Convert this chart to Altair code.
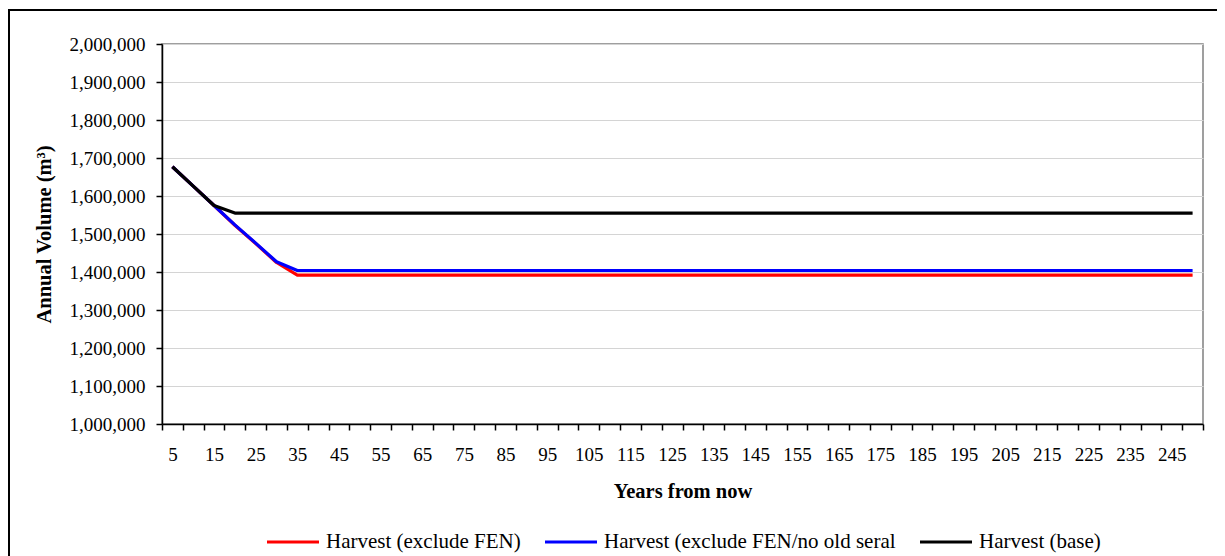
import pandas as pd
import altair as alt

# Years from now (one category every 5 years)
years = list(range(5, 255, 5))

# Annual volume (m3)
harvest_base = [1677000, 1626000, 1575000] + [1555000] * 47
harvest_excl_fen = [1677000, 1626000, 1575000, 1523000, 1475000, 1425000] + [1392000] * 44
harvest_excl_fen_no_old = [1677000, 1626000, 1575000, 1524000, 1476000, 1427000] + [1404000] * 44

series_names = [
    "Harvest (exclude FEN)",
    "Harvest (exclude FEN/no old seral",
    "Harvest (base)",
]
series_colors = ["#ff0000", "#0000ff", "#000000"]

y_ticks = list(range(1000000, 2000001, 100000))
x_ticks = [y - 2.5 for y in years] + [252.5]  # category boundaries

rows = []
for name, vals in zip(series_names, [harvest_excl_fen, harvest_excl_fen_no_old, harvest_base]):
    for yr, v in zip(years, vals):
        rows.append({"year": yr, "volume": v, "series": name})
df = pd.DataFrame(rows)

FONT = "Liberation Serif"
W, H = 1041, 380

lines = alt.Chart(df).mark_line(strokeWidth=3.2, strokeJoin="round").encode(
    x=alt.X(
        "year:Q",
        scale=alt.Scale(domain=[2.5, 252.5], nice=False, zero=False),
        axis=alt.Axis(
            values=x_ticks,
            labelExpr="(datum.value - 2.5) % 10 == 0 && datum.value < 250 ? format(datum.value + 2.5, 'd') : ''",
            labelOffset=10.4,
            labelOverlap=False,
            labelFlush=False,
            labelBound=False,
            grid=False,
            tickSize=6,
            labelPadding=15,
            title="Years from now",
            titlePadding=17,
        ),
    ),
    y=alt.Y(
        "volume:Q",
        scale=alt.Scale(domain=[1000000, 2000000], nice=False, zero=False),
        axis=alt.Axis(
            values=y_ticks,
            format=",d",
            tickSize=6,
            labelPadding=11,
            title="Annual Volume (m³)",
            titlePadding=15,
        ),
    ),
    color=alt.Color(
        "series:N",
        sort=series_names,
        scale=alt.Scale(domain=series_names, range=series_colors),
        legend=alt.Legend(
            title=None,
            orient="none",
            direction="horizontal",
            legendX=103,
            legendY=470,
            symbolType="stroke",
            symbolSize=2704,
            symbolStrokeWidth=3.2,
            labelFont=FONT,
            labelFontSize=21,
            labelColor="#000000",
            labelOffset=5,
            columnPadding=17,
            labelLimit=500,
        ),
    ),
)

# outer frame of the chart picture (decoration)
frame = alt.Chart(pd.DataFrame({"a": [0]})).mark_rect(
    fill=None, stroke="#000000", strokeWidth=2, clip=False
).encode(
    x=alt.value(-153), x2=alt.value(W + 60),
    y=alt.value(-34), y2=alt.value(H + 200),
)

chart = alt.layer(lines, frame).properties(
    width=W,
    height=H,
    autosize=alt.AutoSizeParams(type="none"),
    padding={"left": 154, "top": 36, "right": 14, "bottom": 150},
    background="#ffffff",
).configure_view(
    stroke="#808080", strokeWidth=1.5
).configure_axis(
    labelFont=FONT,
    labelFontSize=19,
    labelColor="#000000",
    titleFont=FONT,
    titleFontSize=20.5,
    titleFontWeight="bold",
    titleColor="#000000",
    domainColor="#000000",
    domainWidth=1.5,
    tickColor="#000000",
    tickWidth=1.5,
    gridColor="#d4d4d4",
    gridWidth=1,
)

chart.save("out.html", embed_options={"renderer": "svg", "actions": False})
